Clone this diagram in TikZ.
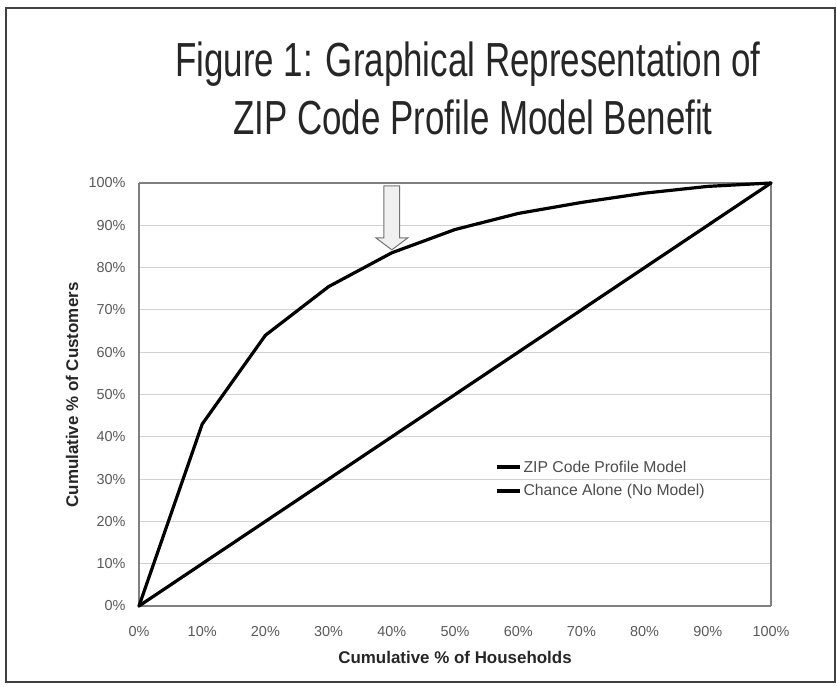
\documentclass[tikz,border=0pt]{standalone}
\usepackage{fontspec}
\setmainfont{Liberation Sans}
\newfontfamily\titlefont{Liberation Sans}[FakeStretch=0.73]
\usepackage{tikz}
\usetikzlibrary{calc}

\tikzset{
	gridline/.style={draw=black!18, line width=1bp},
	axisline/.style={draw=black!50, line width=1.2bp},
	curve/.style={draw=black, line width=3.2bp, line join=round, line cap=round},
	ticklabel/.style={font=\fontsize{14.5}{16}\selectfont, text=black!65, inner sep=0pt},
	axislabel/.style={font=\fontsize{17}{19}\selectfont\bfseries, text=black!85, inner sep=0pt},
	legendlabel/.style={font=\fontsize{15.8}{18}\selectfont, text=black!70, inner sep=0pt, anchor=west}
}

\begin{document}
\begin{tikzpicture}[x=1bp, y=-1bp]
	\newcommand{\plotLeft}{139}
	\newcommand{\plotBottom}{606}
	\newcommand{\stepX}{6.32}
	\newcommand{\stepY}{4.23}

	\useasboundingbox (0,0) rectangle (837,687);
	\draw[black!75, line width=2bp] (6,8) rectangle (835,682);

	% title
	\node (title_one) [anchor=base, inner sep=0pt, font=\titlefont\fontsize{48}{52}\selectfont, text=black!85] at (468,77) {Figure 1: Graphical Representation of};
	\node (title_two) [anchor=base, inner sep=0pt, font=\titlefont\fontsize{48}{52}\selectfont, text=black!85] at (473,135) {ZIP Code Profile Model Benefit};

	\begin{scope}[shift={(\plotLeft,\plotBottom)}, x=\stepX bp, y=\stepY bp]
		\coordinate (origo) at (0,0);
		\coordinate (top_right) at (100,100);

		% grid
		\foreach \v in {10,20,...,90}
			\draw[gridline] (0,\v) -- (100,\v);
		\draw[axisline] (0,100) -- (100,100) -- (100,0);
		\draw[axisline] (0,100) -- (origo) -- (100,0);

		% tick labels
		\foreach \v in {0,10,...,100}
			\node (ylab_\v) [ticklabel, anchor=east] at (-2.1,\v) {\v\%};
		\foreach \v in {0,10,...,100}
			\node (xlab_\v) [ticklabel, anchor=base] at (\v,-7.1) {\v\%};

		% curves
		\draw[curve] (origo) -- (10,43) -- (20,64) -- (30,75.5) -- (40,83.5) -- (50,89)
			-- (60,92.8) -- (70,95.4) -- (80,97.6) -- (90,99.2) -- (top_right);
		\draw[curve] (origo) -- (top_right);

		% marker arrow
		\coordinate (arrow_tip) at (40,84.2);
		\draw[black!55, fill=black!6, line width=1bp, line join=miter]
			(arrow_tip) -- ++(-2.5,2.8) -- ++(1.25,0) -- ++(0,12.3) -- ++(2.5,0)
			-- ++(0,-12.3) -- ++(1.25,0) -- cycle;
	\end{scope}

	% axis titles
	\node (xtitle) [axislabel, anchor=base] at (455,663) {Cumulative \% of Households};
	\node (ytitle) [axislabel, rotate=90, anchor=base] at (78,395) {Cumulative \% of Customers};

	% legend
	\coordinate (leg_one) at (497,467);
	\coordinate (leg_two) at (497,491);
	\draw[curve, line cap=butt] (leg_one) -- ++(23,0) node (leg_zip) [legendlabel, right=2bp] {ZIP Code Profile Model};
	\draw[curve, line cap=butt] (leg_two) -- ++(23,0) node (leg_chance) [legendlabel, right=2bp] {Chance Alone (No Model)};
\end{tikzpicture}
\end{document}
